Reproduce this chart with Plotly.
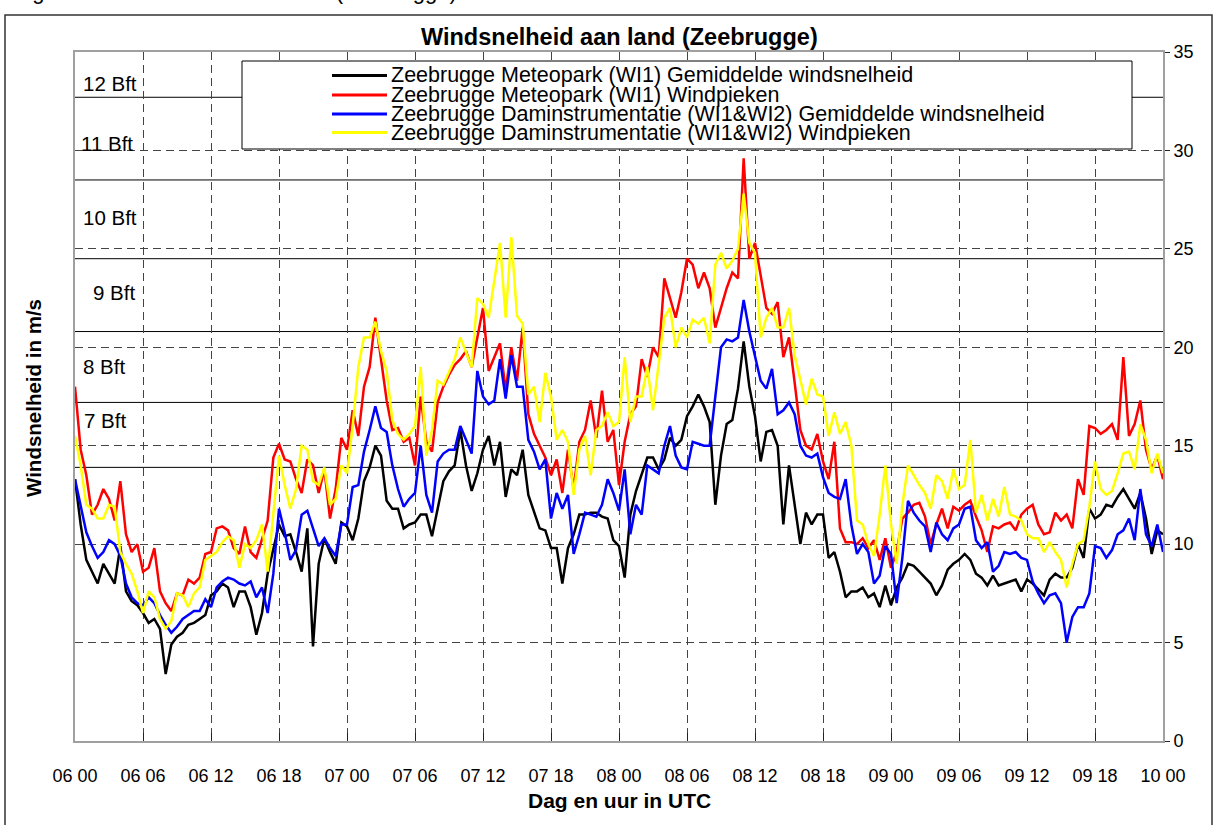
import plotly.graph_objects as go

# ---------------- data ----------------
tick_hours = [0, 6, 12, 18, 24, 30, 36, 42, 48, 54, 60, 66, 72, 78, 84, 90, 96]
tick_labels = ["06 00", "06 06", "06 12", "06 18", "07 00", "07 06", "07 12", "07 18",
               "08 00", "08 06", "08 12", "08 18", "09 00", "09 06", "09 12", "09 18", "10 00"]
hours = [i * 0.5 for i in range(193)]  # half-hourly samples, 06 00 -> 10 00

black = [
    13.3, 11.0, 9.2, 8.6, 8.0, 9.0, 8.5, 8.0, 9.9, 7.6, 7.1, 6.9, 6.5, 6.0, 6.2, 5.7, 3.4, 4.9, 5.3, 5.5, 5.9, 6.0, 6.2, 6.4,
    7.4, 7.6, 8.0, 7.8, 6.8, 7.6, 7.6, 6.8, 5.4, 6.5, 8.5, 9.8, 11.0, 10.4, 10.5, 9.6, 8.6, 10.8, 4.8, 9.0, 10.3, 9.6, 9.0, 11.1,
    10.9, 10.2, 11.3, 13.2, 13.9, 15.0, 14.5, 12.2, 11.8, 11.8, 10.8, 11.0, 11.1, 11.5, 11.5, 10.4, 11.8, 13.2, 13.7, 14.0, 15.8, 14.0, 12.7, 13.6,
    14.8, 15.5, 14.0, 15.2, 12.4, 13.8, 13.5, 14.8, 12.5, 11.6, 10.8, 10.7, 9.8, 9.8, 8.0, 9.8, 10.5, 11.5, 11.5, 11.6, 11.6, 11.4, 11.3, 10.2,
    9.9, 8.3, 11.5, 12.7, 13.6, 14.4, 14.4, 13.8, 14.3, 15.4, 15.0, 15.3, 16.5, 17.0, 17.6, 17.0, 16.2, 12.0, 14.5, 16.1, 16.3, 17.9, 20.3, 18.0,
    16.5, 14.2, 15.7, 15.8, 15.0, 11.0, 14.0, 12.0, 10.0, 11.6, 11.0, 11.5, 11.5, 9.3, 9.6, 8.6, 7.3, 7.6, 7.6, 7.8, 7.3, 7.5, 6.8, 7.9,
    6.9, 7.8, 8.3, 9.0, 8.9, 8.6, 8.3, 8.0, 7.4, 7.9, 8.7, 9.0, 9.2, 9.5, 9.2, 8.5, 8.3, 7.9, 8.4, 7.9, 8.0, 8.1, 8.2, 7.6,
    8.2, 8.0, 7.7, 7.4, 8.2, 8.5, 8.3, 8.3, 8.8, 10.0, 9.3, 11.8, 11.3, 11.5, 12.0, 11.9, 12.4, 12.8, 12.3, 11.8, 12.6, 11.3, 9.5, 10.7, 10.5,
]

red = [
    18.0, 14.8, 13.5, 11.5, 12.0, 12.8, 12.3, 11.2, 13.2, 10.5, 9.6, 10.0, 8.6, 8.8, 9.8, 7.6, 7.0, 6.6, 7.5, 7.4, 8.2, 8.0, 8.3, 9.5,
    9.6, 10.8, 10.9, 10.7, 9.8, 9.5, 10.9, 9.6, 9.3, 10.2, 11.2, 14.4, 15.1, 14.3, 14.2, 13.3, 12.6, 14.3, 14.0, 12.6, 13.8, 11.3, 12.8, 15.4,
    14.8, 16.8, 15.5, 18.0, 19.0, 21.5, 19.5, 17.3, 15.8, 15.9, 15.2, 15.4, 14.0, 17.5, 15.2, 14.7, 17.2, 18.0, 18.6, 19.1, 19.4, 19.8, 19.0, 20.5,
    22.0, 18.8, 19.5, 20.2, 17.8, 20.0, 18.3, 21.0, 16.6, 15.6, 15.0, 14.4, 13.5, 14.3, 12.6, 14.8, 12.8, 15.2, 15.8, 17.3, 15.4, 17.8, 15.2, 15.8,
    13.0, 15.2, 16.6, 17.0, 19.4, 18.5, 20.0, 19.5, 23.5, 22.5, 21.5, 22.8, 24.5, 24.2, 23.0, 23.8, 23.0, 21.0, 22.0, 23.0, 23.8, 23.5, 29.6, 24.5,
    25.3, 23.6, 22.0, 21.7, 22.3, 19.5, 20.5, 18.2, 15.8, 15.0, 14.8, 15.6, 14.2, 13.3, 15.2, 10.8, 10.1, 10.1, 10.0, 10.3, 9.8, 10.2, 9.2, 10.3,
    8.8, 9.6, 11.3, 11.6, 12.0, 12.1, 11.4, 10.0, 11.0, 11.8, 10.8, 11.9, 11.7, 12.0, 12.2, 11.4, 10.7, 9.6, 10.9, 10.8, 11.0, 11.1, 10.7, 11.5,
    11.8, 12.0, 11.0, 10.5, 10.6, 11.6, 11.2, 11.5, 10.8, 13.3, 12.5, 16.0, 15.9, 15.6, 15.8, 16.1, 15.3, 19.5, 15.5, 16.1, 17.3, 14.8, 13.8, 14.5, 13.3,
]

blue = [
    13.3, 12.0, 10.6, 9.9, 9.3, 9.6, 10.2, 10.0, 9.4, 8.0, 7.3, 7.0, 6.9, 7.3, 7.0, 6.4, 5.9, 5.5, 5.8, 6.2, 6.4, 6.6, 6.6, 7.2,
    6.8, 7.8, 8.1, 8.3, 8.2, 8.0, 7.9, 8.1, 7.3, 7.8, 6.5, 8.5, 11.8, 10.6, 9.2, 9.7, 11.5, 11.7, 10.8, 9.9, 10.3, 9.8, 9.4, 11.0,
    11.0, 12.9, 13.0, 14.7, 15.8, 17.0, 15.9, 15.7, 14.0, 12.8, 11.9, 12.3, 12.6, 15.0, 12.5, 11.6, 14.2, 14.6, 14.8, 14.8, 16.0, 15.3, 14.6, 18.8,
    17.5, 17.1, 17.3, 19.4, 17.4, 19.6, 18.0, 18.0, 15.3, 14.7, 13.8, 14.3, 11.3, 12.6, 11.8, 12.5, 9.5, 10.5, 11.6, 11.5, 11.4, 12.0, 13.3, 12.6,
    11.7, 13.8, 10.5, 12.0, 11.5, 14.0, 13.8, 13.6, 15.0, 16.0, 14.5, 13.9, 13.8, 15.2, 15.1, 15.0, 15.0, 17.4, 20.0, 20.4, 20.3, 20.5, 22.4, 20.8,
    19.5, 18.3, 17.9, 18.9, 16.6, 16.8, 17.2, 16.6, 15.0, 14.5, 14.4, 14.6, 13.4, 12.6, 12.4, 12.3, 13.3, 11.0, 9.5, 10.0, 9.6, 8.0, 8.4, 9.9,
    9.5, 7.0, 9.3, 12.2, 11.6, 11.2, 10.9, 9.6, 11.1, 10.5, 10.2, 10.8, 11.0, 11.8, 11.9, 10.2, 9.8, 10.1, 8.6, 8.9, 9.6, 9.5, 9.6, 9.3,
    9.2, 8.1, 7.5, 7.0, 7.4, 7.5, 7.0, 5.0, 6.3, 6.8, 6.8, 7.5, 9.9, 9.8, 9.3, 9.7, 10.5, 10.7, 11.3, 10.2, 12.8, 10.5, 9.9, 11.0, 9.6,
]

yellow = [
    15.5, 14.0, 12.0, 11.8, 11.3, 11.3, 12.0, 11.9, 9.6, 9.0, 8.5, 7.6, 6.5, 7.6, 7.3, 6.2, 5.7, 6.1, 7.5, 7.4, 6.8, 7.5, 7.8, 9.2,
    9.4, 9.6, 10.1, 10.4, 10.2, 8.8, 10.0, 9.8, 10.2, 11.0, 8.6, 11.5, 14.5, 13.0, 11.8, 12.8, 15.0, 14.8, 13.2, 13.0, 13.9, 12.0, 12.3, 14.0,
    13.6, 16.0, 19.0, 20.5, 20.5, 21.3, 19.8, 18.8, 16.3, 15.6, 15.3, 15.6, 16.0, 19.0, 14.5, 15.8, 18.3, 18.1, 18.8, 19.4, 20.5, 19.8, 19.0, 22.5,
    22.2, 21.5, 23.5, 25.3, 21.5, 25.6, 21.6, 21.2, 17.6, 18.0, 16.2, 18.7, 17.5, 15.3, 15.8, 15.2, 12.5, 14.8, 15.5, 13.5, 15.8, 16.0, 16.7, 16.0,
    16.2, 19.5, 16.2, 17.5, 17.5, 19.0, 16.8, 19.2, 21.5, 22.0, 20.0, 21.0, 20.5, 21.4, 21.2, 21.5, 20.2, 24.2, 24.8, 24.0, 24.4, 25.0, 27.8, 25.3,
    24.8, 20.5, 21.5, 22.0, 21.0, 21.0, 22.0, 19.6, 18.3, 17.1, 18.4, 17.6, 17.5, 15.5, 16.7, 15.6, 16.2, 15.0, 11.2, 11.0, 10.0, 9.4, 11.5, 14.0,
    11.0, 9.0, 12.0, 14.0, 13.5, 13.0, 12.6, 11.8, 13.5, 13.2, 12.3, 13.8, 12.8, 13.0, 15.3, 11.6, 12.5, 11.2, 12.3, 11.4, 12.9, 11.5, 11.4, 11.2,
    10.5, 10.3, 10.3, 9.6, 10.1, 9.6, 9.2, 7.8, 9.0, 10.0, 10.2, 11.9, 14.2, 12.8, 12.5, 12.7, 13.6, 14.6, 14.7, 13.8, 16.1, 15.3, 13.6, 14.6, 13.6,
]

series_names = [
    "Zeebrugge Meteopark (WI1) Gemiddelde windsnelheid",
    "Zeebrugge Meteopark (WI1) Windpieken",
    "Zeebrugge Daminstrumentatie (WI1&WI2) Gemiddelde windsnelheid",
    "Zeebrugge Daminstrumentatie (WI1&WI2) Windpieken",
]

bft_limits = [13.9, 17.2, 20.8, 24.5, 28.5, 32.7]
bft_labels = ["7 Bft", "8 Bft", "9 Bft", "10 Bft", "11 Bft", "12 Bft"]

for name, arr in (("black", black), ("red", red), ("blue", blue), ("yellow", yellow)):
    assert len(arr) == len(hours), (name, len(arr))

# ---------------- layout helpers ----------------
W, H = 1216, 825
ML, MR, MT, MB = 75, 53, 52, 84
PW, PH = W - ML - MR, H - MT - MB


def px_x(px):
    return (px - ML) / PW


def px_y(py):
    return (H - MB - py) / PH


FONT = "Liberation Sans, Arial, sans-serif"
colors = ["#000000", "#ff0000", "#0000ff", "#ffff00"]
values = [black, red, blue, yellow]

fig = go.Figure()
for name, vals, col in zip(series_names, values, colors):
    fig.add_trace(go.Scatter(x=hours, y=vals, mode="lines", name=name,
                             line=dict(color=col, width=2.5), showlegend=False,
                             hoverinfo="skip"))

shapes = []
# Beaufort limits
for lim in bft_limits:
    shapes.append(dict(type="line", xref="paper", yref="y", x0=0, x1=1, y0=lim, y1=lim,
                       line=dict(color="#000000", width=1), layer="below"))

# legend box + samples
leg_x0, leg_x1, leg_y0, leg_y1 = 242, 1132, 61, 149
shapes.append(dict(type="rect", xref="paper", yref="paper",
                   x0=px_x(leg_x0), x1=px_x(leg_x1), y0=px_y(leg_y1), y1=px_y(leg_y0),
                   fillcolor="white", line=dict(color="#000000", width=1), layer="above"))
leg_rows = [75.5, 95, 114, 132.5]
for col, ry in zip(colors, leg_rows):
    shapes.append(dict(type="line", xref="paper", yref="paper",
                       x0=px_x(332), x1=px_x(387), y0=px_y(ry), y1=px_y(ry),
                       line=dict(color=col, width=3), layer="above"))

# outer chart border
shapes.append(dict(type="rect", xref="paper", yref="paper",
                   x0=px_x(5), x1=px_x(1212), y0=px_y(845), y1=px_y(15),
                   line=dict(color="#333333", width=1.5), fillcolor="rgba(0,0,0,0)",
                   layer="above"))

annotations = []
# partially visible caption at the very top (cut off by the image edge)
annotations.append(dict(text="Figuur 3: Windsnelheid aan land (Zeebrugge)", xref="paper", yref="paper",
                        x=px_x(12), y=px_y(-8.5), xanchor="left", yanchor="middle",
                        showarrow=False, font=dict(family=FONT, size=22, color="black")))
annotations.append(dict(text="<b>Windsnelheid aan land (Zeebrugge)</b>", xref="paper", yref="paper",
                        x=0.5, y=px_y(37), xanchor="center", yanchor="middle",
                        showarrow=False, font=dict(family=FONT, size=23.5, color="black")))
annotations.append(dict(text="<b>Windsnelheid in m/s</b>", xref="paper", yref="paper",
                        x=px_x(33), y=px_y(398), xanchor="center", yanchor="middle",
                        textangle=-90, showarrow=False,
                        font=dict(family=FONT, size=20.5, color="black")))
annotations.append(dict(text="<b>Dag en uur in UTC</b>", xref="paper", yref="paper",
                        x=0.5, y=px_y(800), xanchor="center", yanchor="middle",
                        showarrow=False, font=dict(family=FONT, size=21, color="black")))

bft_label_pos = {"7 Bft": (82, 16.3), "8 Bft": (81, 19.0), "9 Bft": (91, 22.8),
                 "10 Bft": (81, 26.6), "11 Bft": (79, 30.35), "12 Bft": (81, 33.4)}
for lab in bft_labels:
    lx, ly = bft_label_pos[lab]
    annotations.append(dict(text=lab, xref="paper", yref="y", x=px_x(lx), y=ly,
                            xanchor="left", yanchor="middle", showarrow=False,
                            font=dict(family=FONT, size=20.5, color="black")))

for name, ry in zip(series_names, leg_rows):
    annotations.append(dict(text=name, xref="paper", yref="paper", x=px_x(389), y=px_y(ry),
                            xanchor="left", yanchor="middle", showarrow=False,
                            font=dict(family=FONT, size=21.5, color="black")))

fig.update_layout(
    width=W, height=H,
    margin=dict(l=ML, r=MR, t=MT, b=MB, pad=0),
    paper_bgcolor="white", plot_bgcolor="white",
    font=dict(family=FONT, color="black"),
    showlegend=False,
    shapes=shapes, annotations=annotations,
    xaxis=dict(range=[0, 96], tickmode="array", tickvals=tick_hours, ticktext=tick_labels,
               ticks="inside", ticklen=8, tickcolor="#222222", tickwidth=1,
               showline=True, linecolor="#a0a0a0", linewidth=2, mirror=True,
               showgrid=True, gridcolor="#444444", gridwidth=1, griddash="8px,5px",
               zeroline=False, tickfont=dict(family=FONT, size=18, color="black"),
               ticklabelstandoff=17, fixedrange=True),
    yaxis=dict(range=[0, 35], dtick=5, side="right",
               ticks="outside", ticklen=5, tickcolor="#222222", tickwidth=1,
               showline=True, linecolor="#a0a0a0", linewidth=2, mirror=True,
               showgrid=True, gridcolor="#444444", gridwidth=1, griddash="8px,5px",
               zeroline=False, tickfont=dict(family=FONT, size=18, color="black"),
               fixedrange=True),
)

fig.write_html("out.html", config={"displayModeBar": False, "staticPlot": True},
               post_script="document.body.style.margin='0px';")
